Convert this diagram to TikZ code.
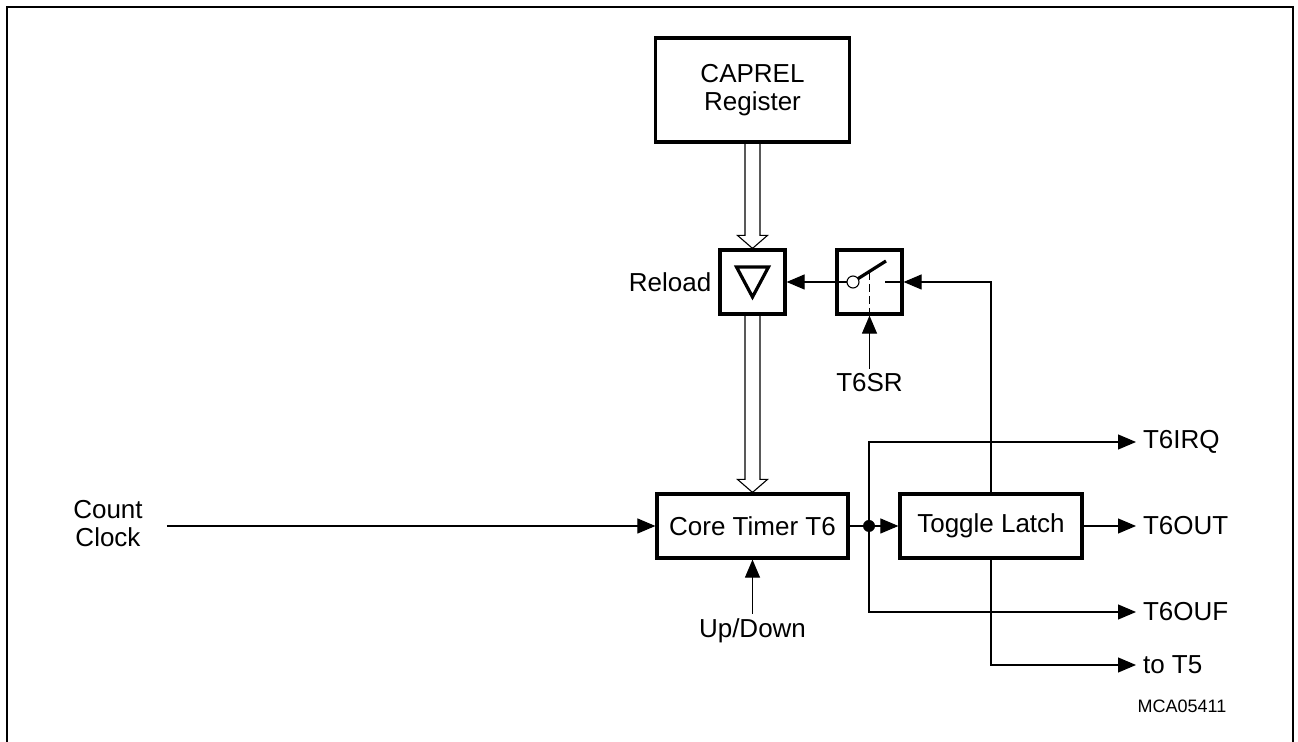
\documentclass[tikz,border=0pt]{standalone}
\usepackage{fontspec}
\setmainfont{Liberation Sans}
\usetikzlibrary{arrows.meta,calc}

\newcommand{\busarrow}[2]{%
  \draw[wire] ($(#1.south)+(-7.5,0)$) -- ($(#2.north)+(-7.5,-13)$) -- ($(#2.north)+(-15,-13)$)
    -- (#2.north) -- ($(#2.north)+(15,-13)$) -- ($(#2.north)+(7.5,-13)$) -- ($(#1.south)+(7.5,0)$);}

\begin{document}
\begin{tikzpicture}[x=0.5pt, y=-0.5pt,
  every node/.style={font=\fontsize{13}{14}\selectfont},
  blk/.style={draw, line width=1.6pt, minimum width=#1, minimum height=32pt, inner sep=0pt},
  wire/.style={line width=0.55pt},
  sig/.style={wire, -{Triangle[length=9pt,width=7.5pt]}}]
  \useasboundingbox (0,0) rectangle (1298,742);
  \draw[line width=1pt] (7,750) -- (7,7) -- (1293,7) -- (1293,750);

  \node[blk=97pt, minimum height=52pt, align=center] (caprel) at (752.5,90) {CAPREL\\Register};
  \node[blk=32.5pt] (reload) at (752.5,282) {};
  \node[blk=32.5pt] (sw) at (869.5,282) {};
  \node[blk=95.5pt] (core) at (752.5,526) {Core Timer T6};
  \node[blk=91pt] (latch) at (991,526) {Toggle Latch};

  \node[anchor=east] (rl) at (reload.west) {Reload};
  \node[align=center] (clk) at (108,524) {Count\\Clock};
  \node[anchor=north, inner sep=2pt] (t6sr) at (869.5,369) {T6SR};
  \node[anchor=north, inner sep=2pt] (updown) at (752.5,614) {Up/Down};
  \node[anchor=west] (irq) at (1136,442) {T6IRQ};
  \node[anchor=west] (out) at (1136,526) {T6OUT};
  \node[anchor=west] (ouf) at (1136,612) {T6OUF};
  \node[anchor=west] (t5) at (1136,665) {to T5};
  \node[font=\fontsize{9}{10}\selectfont] (id) at (1182,706) {MCA05411};

  \busarrow{caprel}{reload}
  \busarrow{reload}{core}
  \draw[line width=1.6pt] ($(reload)+(-16,-15)$) -- ($(reload)+(16,-15)$) -- ($(reload)+(0,15)$) -- cycle;

  \coordinate (pivot) at ($(sw)+(-16.5,0)$);
  \draw[line width=1.6pt] ($(sw)+(-12,-3)$) -- ($(sw)+(16.5,-21)$);
  \draw[wire, dash pattern=on 4pt off 2pt] ($(sw)+(0,-10)$) -- (sw.south);
  \draw[wire] ($(sw)+(15.5,0)$) -- (sw.east);
  \draw[sig] ([xshift=-3pt]pivot) -- (reload.east);
  \draw[wire, fill=white] (pivot) circle[radius=3pt];
  \draw[sig] (latch.north) |- (sw.east);
  \draw[sig] (t6sr.north) -- (sw.south);

  \draw[sig] (core.west -| clk.east) ++(17,0) -- (core.west);
  \draw[sig] (updown.north) -- (core.south);
  \coordinate (br) at (869,526);
  \draw[wire] (core.east) -- (br);
  \fill (br) circle[radius=3pt];
  \draw[sig] (br) -- (latch.west);
  \draw[sig] (br) |- (irq.west);
  \draw[sig] (br) |- (ouf.west);
  \draw[sig] (latch.east) -- (out.west);
  \draw[sig] (latch.south) |- (t5.west);
\end{tikzpicture}
\end{document}
